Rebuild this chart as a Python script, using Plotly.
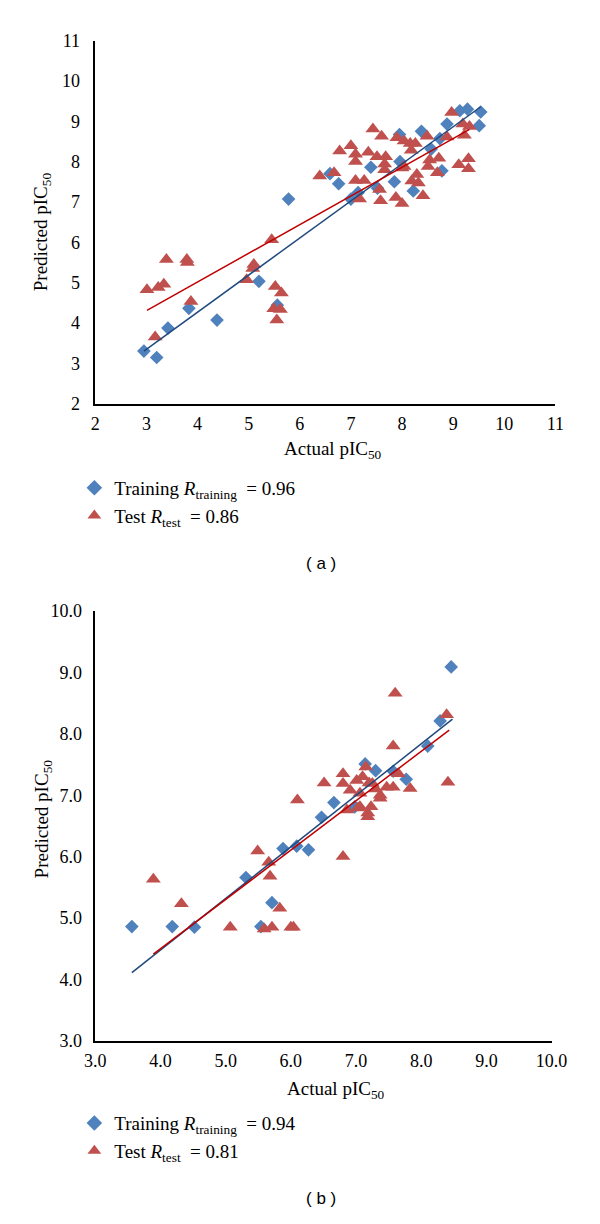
import plotly.graph_objects as go

# ---------------- Panel (a) data ----------------
a_train_x = [2.95, 3.20, 3.42, 3.83, 4.38, 5.20, 5.56, 5.78, 6.59, 6.76, 7.00, 7.14, 7.39, 7.52,
             7.85, 7.95, 7.96, 8.22, 8.38, 8.57, 8.74, 8.78, 8.88, 9.13, 9.28, 9.54, 9.51]
a_train_y = [3.30, 3.14, 3.87, 4.36, 4.07, 5.03, 4.44, 7.07, 7.70, 7.45, 7.07, 7.23, 7.86, 7.34,
             7.50, 8.67, 8.00, 7.27, 8.75, 8.31, 8.57, 7.77, 8.93, 9.26, 9.30, 9.23, 8.89]

a_test_x = [3.01, 3.23, 3.34, 3.39, 3.79, 3.80, 3.87, 3.17, 4.96, 5.08, 5.10, 5.45, 5.52, 5.64,
            5.49, 5.62, 5.55, 6.39, 6.67, 6.78, 7.00, 7.09, 7.09, 7.43, 7.60, 7.34, 7.51, 7.68,
            7.90, 8.04, 8.16, 8.26, 8.18, 8.49, 8.88, 8.97, 9.19, 9.32, 9.22, 7.66, 8.04, 8.54,
            8.72, 8.51, 8.69, 9.11, 9.30, 9.30, 7.09, 7.26, 7.66, 7.17, 7.56, 7.58, 7.88, 8.00,
            8.19, 8.29, 8.32, 8.41, 8.00]
a_test_y = [4.82, 4.88, 4.96, 5.57, 5.57, 5.50, 4.53, 3.65, 5.07, 5.35, 5.45, 6.06, 4.90, 4.74,
            4.35, 4.33, 4.07, 7.64, 7.72, 8.26, 8.39, 8.18, 8.00, 8.81, 8.63, 8.23, 8.12, 8.12,
            8.59, 8.51, 8.45, 8.45, 8.28, 8.63, 8.61, 9.22, 8.93, 8.87, 8.65, 7.94, 7.88, 8.04,
            8.08, 7.88, 7.72, 7.92, 8.07, 7.82, 7.53, 7.53, 7.80, 7.07, 7.31, 7.03, 7.11, 6.96,
            7.52, 7.68, 7.47, 7.15, 7.84]

# trend lines (end points)
a_train_fit_x = [2.95, 9.54]
a_train_fit_y = [3.30, 9.36]
a_test_fit_x = [3.01, 9.32]
a_test_fit_y = [4.31, 8.80]

a_ticks = [2, 3, 4, 5, 6, 7, 8, 9, 10, 11]

# ---------------- Panel (b) data ----------------
b_train_x = [3.56, 4.18, 4.52, 5.31, 5.54, 5.71, 5.88, 6.09, 6.27, 6.47, 6.66, 6.98, 7.14, 7.30,
             7.57, 7.77, 8.10, 8.29, 8.46]
b_train_y = [4.86, 4.86, 4.85, 5.66, 4.86, 5.25, 6.13, 6.17, 6.11, 6.64, 6.88, 6.81, 7.51, 7.40,
             7.39, 7.26, 7.80, 8.21, 9.09]

b_test_x = [3.89, 4.32, 5.07, 5.49, 5.59, 5.66, 5.68, 5.71, 5.83, 6.00, 6.04, 6.10, 6.51, 6.80,
            6.80, 6.80, 6.86, 6.91, 7.01, 7.03, 7.06, 7.06, 7.15, 7.18, 7.18, 7.23, 7.25, 7.37,
            7.37, 7.47, 7.57, 7.57, 7.60, 7.65, 7.83, 8.39, 8.41, 7.10, 7.20, 7.30]
b_test_y = [5.63, 5.23, 4.85, 6.09, 4.82, 5.91, 5.68, 4.85, 5.16, 4.85, 4.85, 6.92, 7.20, 7.35,
            7.19, 6.00, 6.76, 7.08, 7.24, 6.79, 7.03, 6.81, 7.46, 6.71, 6.65, 6.81, 7.19, 7.00,
            6.95, 7.13, 7.13, 7.80, 8.66, 7.35, 7.11, 8.31, 7.21, 7.30, 7.20, 7.10]

b_train_fit_x = [3.56, 8.48]
b_train_fit_y = [4.11, 8.24]
b_test_fit_x = [3.89, 8.43]
b_test_fit_y = [4.41, 8.06]

b_ticks = [3.0, 4.0, 5.0, 6.0, 7.0, 8.0, 9.0, 10.0]

labels_a = ["Training <i>R</i><sub>training</sub>&nbsp; = 0.96", "Test <i>R</i><sub>test</sub>&nbsp; = 0.86"]
labels_b = ["Training <i>R</i><sub>training</sub>&nbsp; = 0.94", "Test <i>R</i><sub>test</sub>&nbsp; = 0.81"]

# ---------------- styling ----------------
# the page body has an 8px margin, so the figure is drawn 8px in from the top-left
OFF = 8
W, H = 600 - OFF, 1224 - 2 * OFF
BLUE = "#4F81BD"
RED = "#C0504D"
BLUE_LINE = "#1F497D"
RED_LINE = "#C00000"
SERIF = "Liberation Serif"
SANS = "Liberation Sans"


def px_x(p):
    """page x pixel -> paper fraction"""
    return (p - OFF) / W


def px_y(p):
    """page y pixel -> paper fraction"""
    return 1 - (p - OFF) / H


fig = go.Figure()


def add_panel(tx, ty, sx, sy, ftx, fty, fsx, fsy, labels, legend, xaxis, yaxis):
    fig.add_trace(go.Scatter(x=tx, y=ty, mode="markers", name=labels[0], legend=legend,
                             marker=dict(symbol="diamond", size=10.5, color=BLUE),
                             xaxis=xaxis, yaxis=yaxis))
    fig.add_trace(go.Scatter(x=sx, y=sy, mode="markers", name=labels[1], legend=legend,
                             marker=dict(symbol="triangle-up", size=13, color=RED),
                             xaxis=xaxis, yaxis=yaxis))
    fig.add_trace(go.Scatter(x=ftx, y=fty, mode="lines", showlegend=False, hoverinfo="skip",
                             line=dict(color=BLUE_LINE, width=1.5), xaxis=xaxis, yaxis=yaxis))
    fig.add_trace(go.Scatter(x=fsx, y=fsy, mode="lines", showlegend=False, hoverinfo="skip",
                             line=dict(color=RED_LINE, width=1.5), xaxis=xaxis, yaxis=yaxis))


add_panel(a_train_x, a_train_y, a_test_x, a_test_y,
          a_train_fit_x, a_train_fit_y, a_test_fit_x, a_test_fit_y, labels_a, "legend", "x", "y")
add_panel(b_train_x, b_train_y, b_test_x, b_test_y,
          b_train_fit_x, b_train_fit_y, b_test_fit_x, b_test_fit_y, labels_b, "legend2", "x2", "y2")

axis_common = dict(showgrid=False, zeroline=False, showline=True, linecolor="black",
                   linewidth=1.5, ticks="", mirror=False,
                   tickfont=dict(family=SERIF, size=18, color="black"))

legend_common = dict(xanchor="left", yanchor="middle",
                     font=dict(family=SERIF, size=19, color="black"),
                     bgcolor="rgba(0,0,0,0)", itemsizing="constant", tracegroupgap=0)

fig.update_layout(
    width=W, height=H,
    margin=dict(l=0, r=0, t=0, b=0),
    paper_bgcolor="white", plot_bgcolor="white",
    xaxis=dict(domain=[px_x(88), px_x(570)], range=[2, 11], tickvals=a_ticks,
               anchor="y", ticklabelstandoff=3, **axis_common),
    yaxis=dict(domain=[px_y(400), px_y(31)], range=[2, 11], tickvals=a_ticks,
               anchor="x", ticklabelstandoff=10, **axis_common),
    xaxis2=dict(domain=[px_x(88), px_x(566)], range=[3, 10], tickvals=b_ticks,
                tickformat=".1f", anchor="y2", ticklabelstandoff=3, **axis_common),
    yaxis2=dict(domain=[px_y(1048), px_y(611)], range=[3, 10], tickvals=b_ticks,
                tickformat=".1f", anchor="x2", ticklabelstandoff=8, **axis_common),
    legend=dict(x=px_x(66), y=px_y(500), **legend_common),
    legend2=dict(x=px_x(66), y=px_y(1146), **legend_common),
    showlegend=True,
)

annos = [
    dict(text="Actual pIC<sub>50</sub>", x=px_x(337), y=px_y(447)),
    dict(text="Actual pIC<sub>50</sub>", x=px_x(340), y=px_y(1098)),
    dict(text="Predicted pIC<sub>50</sub>", x=px_x(33), y=px_y(225), textangle=-90),
    dict(text="Predicted pIC<sub>50</sub>", x=px_x(33), y=px_y(822), textangle=-90),
]
for an in annos:
    fig.add_annotation(xref="paper", yref="paper", showarrow=False,
                       xanchor="center", yanchor="middle",
                       font=dict(family=SERIF, size=19, color="black"), **an)

for txt, yy in [("( a )", 563), ("( b )", 1208)]:
    fig.add_annotation(xref="paper", yref="paper", showarrow=False, text=txt,
                       x=px_x(324), y=px_y(yy), xanchor="center", yanchor="middle",
                       font=dict(family=SANS, size=17, color="black"))

fig.write_html("out.html")
